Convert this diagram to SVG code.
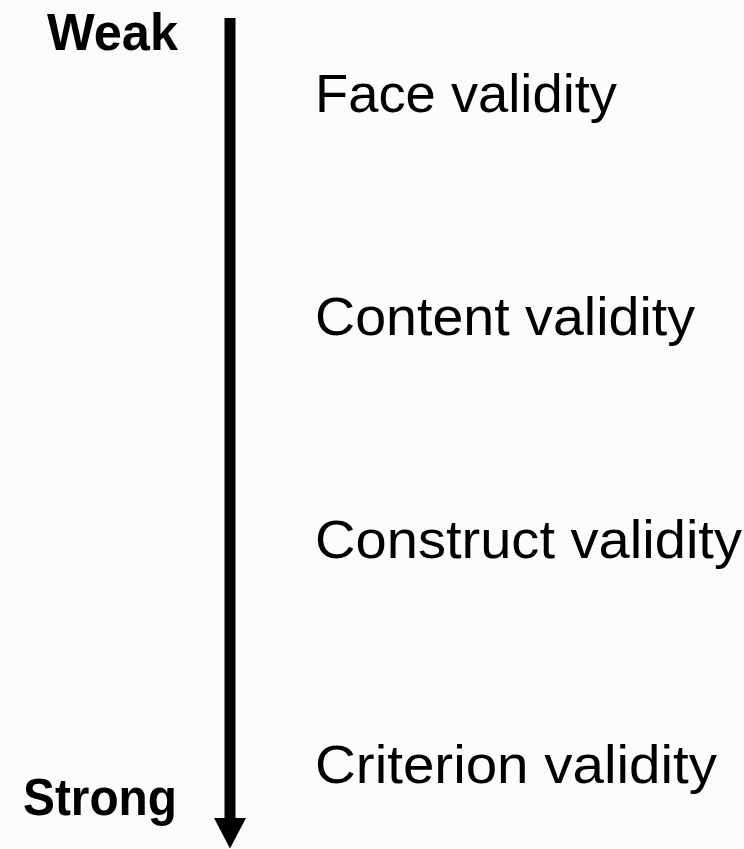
<svg xmlns="http://www.w3.org/2000/svg" width="744" height="849" viewBox="0 0 744 849">
  <style>
    .lbl { font-family: "Liberation Sans", Arial, sans-serif; font-size: 54px; fill: #000; }
    .end { font-family: "Liberation Sans", Arial, sans-serif; font-size: 52px; font-weight: bold; fill: #000; }
  </style>
  <rect x="0" y="0" width="744" height="849" fill="#fcfcfc"/>
  <g id="connectors">
    <rect x="224.5" y="18" width="11" height="801" fill="#000"/>
    <polygon points="214,818 246,818 230,848.5" fill="#000"/>
  </g>
  <g id="weak"><text class="end" x="47" y="50" textLength="131" lengthAdjust="spacingAndGlyphs">Weak</text></g>
  <g id="strong"><text class="end" x="23" y="814.5" textLength="154" lengthAdjust="spacingAndGlyphs">Strong</text></g>
  <g id="face"><text class="lbl" x="315" y="112" textLength="302" lengthAdjust="spacingAndGlyphs">Face validity</text></g>
  <g id="content"><text class="lbl" x="315" y="334.5" textLength="380" lengthAdjust="spacingAndGlyphs">Content validity</text></g>
  <g id="construct"><text class="lbl" x="315" y="557.5" textLength="427" lengthAdjust="spacingAndGlyphs">Construct validity</text></g>
  <g id="criterion"><text class="lbl" x="315" y="782.5" textLength="402" lengthAdjust="spacingAndGlyphs">Criterion validity</text></g>
</svg>
